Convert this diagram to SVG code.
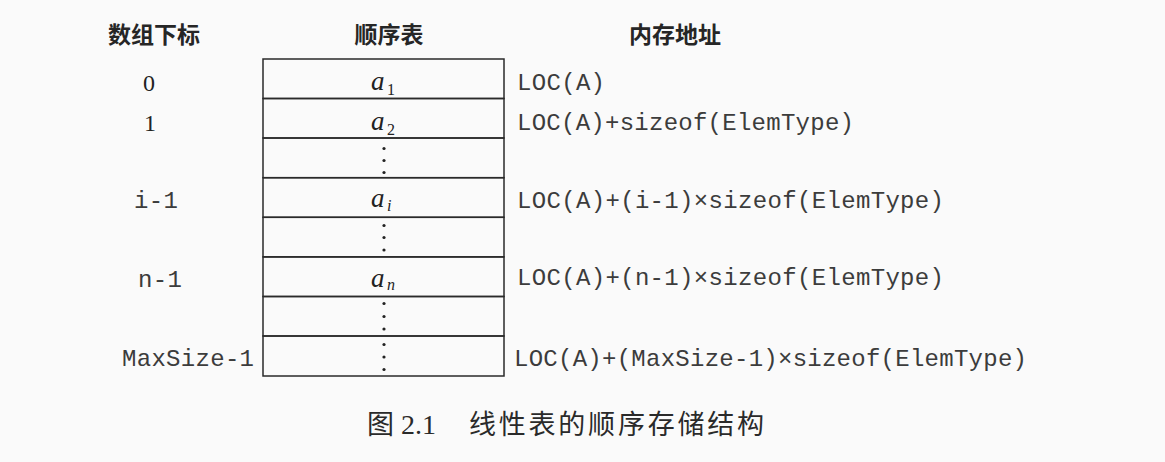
<svg xmlns="http://www.w3.org/2000/svg" width="1165" height="462" viewBox="0 0 1165 462">
<style>
.hd{font-family:"Noto Sans CJK SC",sans-serif;font-size:23px;font-weight:bold;fill:#262626;text-anchor:middle}
.mono{font-family:"Liberation Mono","DejaVu Sans Mono",monospace;font-size:24px;fill:#3c3c3c}
.ser{font-family:"Liberation Serif",serif;font-size:24px;fill:#222}
.it{font-family:"Liberation Serif",serif;font-style:italic;font-size:27px;fill:#222}
.sub{font-family:"Liberation Serif",serif;font-size:16px;fill:#222}
.subi{font-family:"Liberation Serif",serif;font-style:italic;font-size:16px;fill:#222}
.cell{fill:none;stroke:#2a2a2a;stroke-width:1.5}
.dot{fill:#222}
.cap{font-family:"Noto Sans CJK SC",sans-serif;font-size:27px;fill:#2a2a2a}
.capn{font-family:"Liberation Serif",serif;font-size:28px;fill:#2a2a2a}
</style>
<rect width="1165" height="462" fill="#fafafa"/>
<g id="headers">
<text class="hd" x="154" y="43">数组下标</text>
<text class="hd" x="389" y="43">顺序表</text>
<text class="hd" x="675" y="43">内存地址</text>
</g>
<g id="indices">
<text class="ser" x="143" y="91">0</text>
<text class="ser" x="144" y="131">1</text>
<text class="mono" x="134" y="208" textLength="44" lengthAdjust="spacing">i-1</text>
<text class="mono" x="138" y="287" textLength="44" lengthAdjust="spacing">n-1</text>
<text class="mono" x="122" y="366" textLength="132" lengthAdjust="spacing">MaxSize-1</text>
</g>
<g id="table">
<g id="cell0"><rect class="cell" x="263" y="59" width="241" height="39.5"/><text class="it" x="371" y="90">a</text><text class="sub" x="387" y="95">1</text></g>
<g id="cell1"><rect class="cell" x="263" y="98.5" width="241" height="39.5"/><text class="it" x="371" y="129.5">a</text><text class="sub" x="387" y="134.5">2</text></g>
<g id="cell2"><rect class="cell" x="263" y="138" width="241" height="39.7"/><circle class="dot" cx="384" cy="148.5" r="1.6"/><circle class="dot" cx="384" cy="160.5" r="1.6"/><circle class="dot" cx="384" cy="172.5" r="1.6"/></g>
<g id="cell3"><rect class="cell" x="263" y="177.7" width="241" height="39.6"/><text class="it" x="371" y="207">a</text><text class="subi" x="387" y="211">i</text></g>
<g id="cell4"><rect class="cell" x="263" y="217.3" width="241" height="39.6"/><circle class="dot" cx="384" cy="225.5" r="1.6"/><circle class="dot" cx="384" cy="237.5" r="1.6"/><circle class="dot" cx="384" cy="250" r="1.6"/></g>
<g id="cell5"><rect class="cell" x="263" y="256.9" width="241" height="39.6"/><text class="it" x="371" y="286.5">a</text><text class="subi" x="387" y="289.5">n</text></g>
<g id="cell6"><rect class="cell" x="263" y="296.5" width="241" height="39.5"/><circle class="dot" cx="384" cy="303.5" r="1.6"/><circle class="dot" cx="384" cy="316.5" r="1.6"/><circle class="dot" cx="384" cy="329" r="1.6"/></g>
<g id="cell7"><rect class="cell" x="263" y="336" width="241" height="40"/><circle class="dot" cx="384" cy="344.5" r="1.6"/><circle class="dot" cx="384" cy="357" r="1.6"/><circle class="dot" cx="384" cy="369.5" r="1.6"/></g>
</g>
<g id="addresses">
<text class="mono" x="517" y="90" textLength="88" lengthAdjust="spacing">LOC(A)</text>
<text class="mono" x="517" y="130" textLength="337" lengthAdjust="spacing">LOC(A)+sizeof(ElemType)</text>
<text class="mono" x="517" y="208" textLength="427" lengthAdjust="spacing">LOC(A)+(i-1)×sizeof(ElemType)</text>
<text class="mono" x="517" y="285" textLength="427" lengthAdjust="spacing">LOC(A)+(n-1)×sizeof(ElemType)</text>
<text class="mono" x="514" y="366" textLength="513" lengthAdjust="spacing">LOC(A)+(MaxSize-1)×sizeof(ElemType)</text>
</g>
<g id="connectors"/>
<g id="caption">
<text class="cap" x="367" y="434">图</text>
<text class="capn" x="401" y="434">2.1</text>
<text class="cap" x="469" y="434" textLength="295" lengthAdjust="spacing">线性表的顺序存储结构</text>
</g>
</svg>
